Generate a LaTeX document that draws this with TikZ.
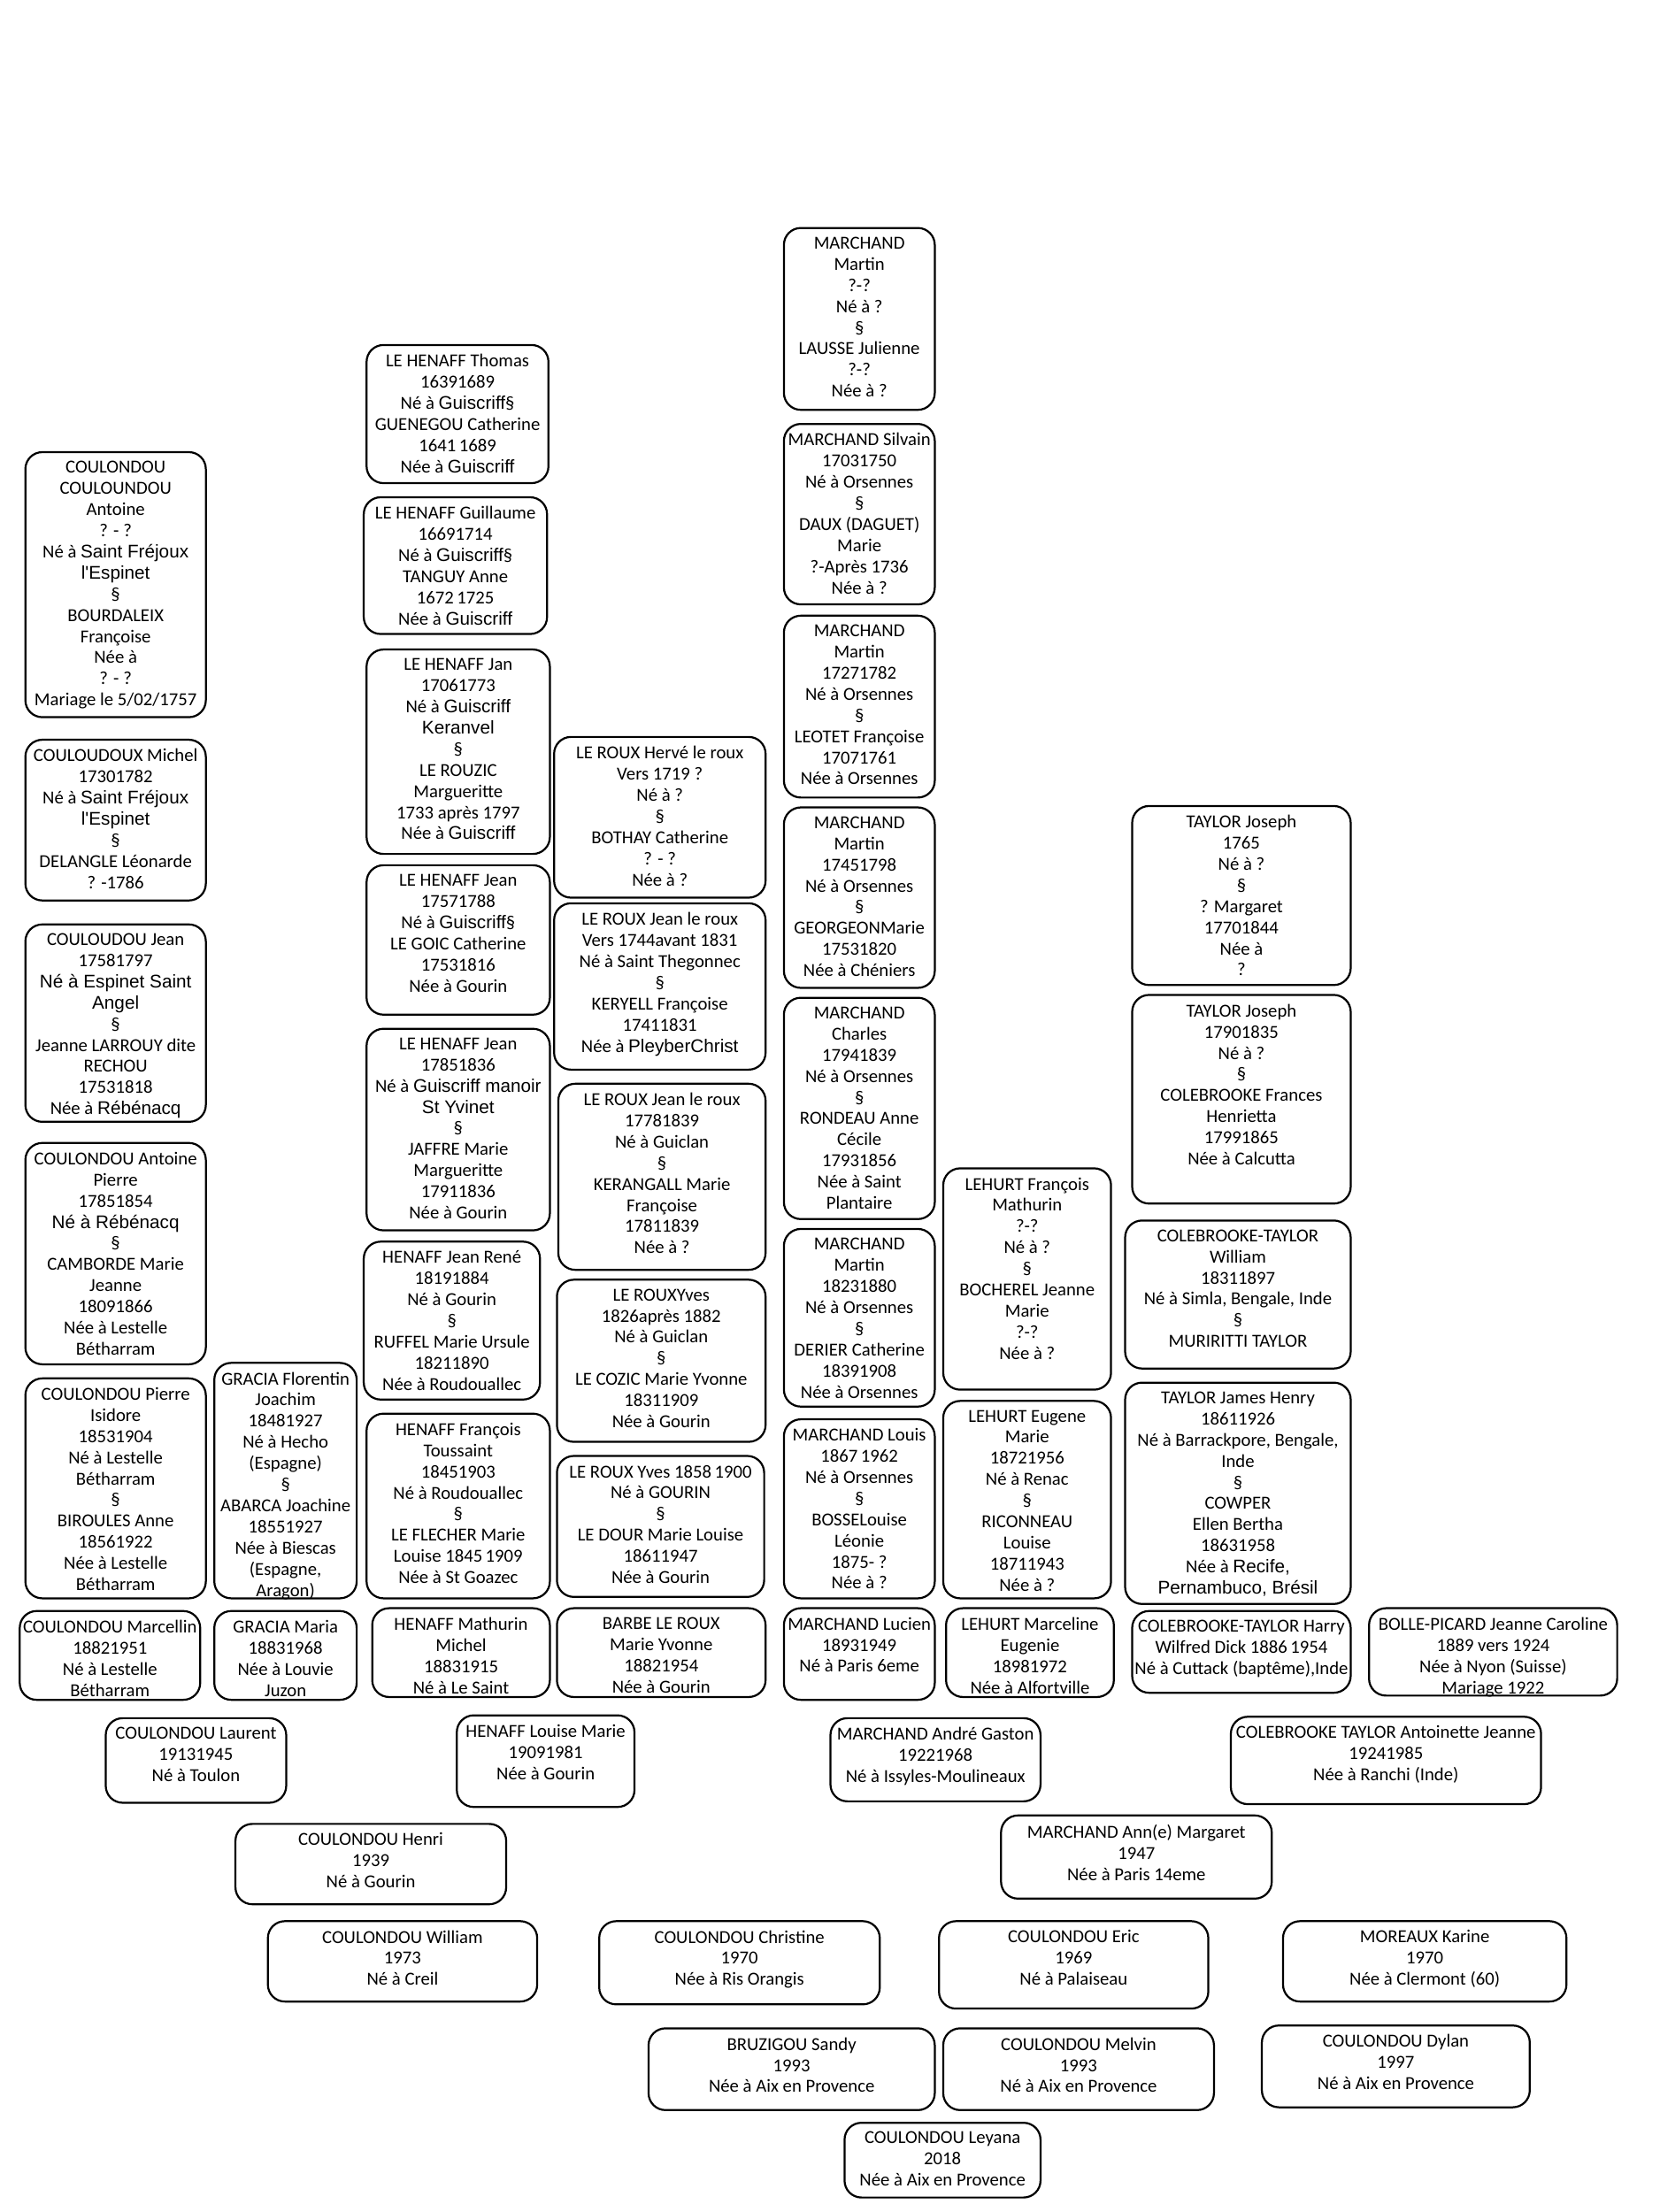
\documentclass[tikz,border=0pt]{standalone}
\usepackage{fontspec}
\setmainfont{Carlito}
\newfontfamily\arialfont{Liberation Sans}
\newcommand{\arialtxt}[1]{{\arialfont\fontsize{13}{15}\selectfont #1}}
\tikzset{
	card/.style 2 args={draw=black, line width=1.4pt, rounded corners=12pt, minimum width=#1, minimum height=#2, anchor=north, inner sep=0pt},
	cardtext/.style={anchor=north, yshift=-7pt, inner sep=0pt, align=center, font=\fontsize{13}{15}\selectfont}
}
\begin{document}
\begin{tikzpicture}[x=1pt,y=-1pt]
		\useasboundingbox (0,0) rectangle (1177,1569);
		\node[card={128}{188},label={[cardtext]north:{COULONDOU\\COULOUNDOU\\Antoine\\? - ?\\Né à \arialtxt{Saint Fréjoux}\\\arialtxt{l'Espinet}\\§\\BOURDALEIX\\Françoise\\Née à\\? - ?\\Mariage le 5/02/1757}}] (antoineA) at (82,320) {};
		\node[card={128}{114},label={[cardtext]north:{COULOUDOUX Michel\\17301782\\Né à \arialtxt{Saint Fréjoux}\\\arialtxt{l'Espinet}\\§\\DELANGLE Léonarde\\? -1786}}] (michel) at (82,524) {};
		\node[card={128}{140},label={[cardtext]north:{COULOUDOU Jean\\17581797\\\arialtxt{Né à Espinet Saint}\\\arialtxt{Angel}\\§\\Jeanne LARROUY dite\\RECHOU\\17531818\\Née à \arialtxt{Rébénacq}}}] (jeanC) at (82,655) {};
		\node[card={128}{157},label={[cardtext]north:{COULONDOU Antoine\\Pierre\\17851854\\\arialtxt{Né à Rébénacq}\\§\\CAMBORDE Marie\\Jeanne\\18091866\\Née à Lestelle\\Bétharram}}] (antoineP) at (82,810) {};
		\node[card={128}{156},label={[cardtext]north:{COULONDOU Pierre\\Isidore\\18531904\\Né à Lestelle\\Bétharram\\§\\BIROULES Anne\\18561922\\Née à Lestelle\\Bétharram}}] (pierre) at (82,977) {};
		\node[card={128}{63},label={[cardtext]north:{COULONDOU Marcellin\\18821951\\Né à Lestelle\\Bétharram}}] (marcellin) at (78,1142) {};
		
		\node[card={101}{167},label={[cardtext]north:{GRACIA Florentin\\Joachim\\18481927\\Né à Hecho\\(Espagne)\\§\\ABARCA Joachine\\18551927\\Née à Biescas\\(Espagne,\\Aragon)}}] (florentin) at (202.5,966) {};
		\node[card={101}{63},label={[cardtext]north:{GRACIA Maria\\18831968\\Née à Louvie\\Juzon}}] (maria) at (202.5,1142) {};
		
		\node[card={129}{98},label={[cardtext]north:{LE HENAFF Thomas\\16391689\\Né à \arialtxt{Guiscriff}§\\GUENEGOU Catherine\\1641\,1689\\Née à \arialtxt{Guiscriff}}}] (thomas) at (324.5,244) {};
		\node[card={130}{97},label={[cardtext]north:{LE HENAFF Guillaume\\16691714\\Né à \arialtxt{Guiscriff}§\\TANGUY Anne\\1672\,1725\\Née à \arialtxt{Guiscriff}}}] (guillaume) at (323,352) {};
		\node[card={130}{145},label={[cardtext]north:{LE HENAFF Jan\\17061773\\Né à \arialtxt{Guiscriff}\\\arialtxt{Keranvel}\\§\\LE ROUZIC\\Margueritte\\1733 après 1797\\Née à \arialtxt{Guiscriff}}}] (jan) at (325,460) {};
		\node[card={130}{106},label={[cardtext]north:{LE HENAFF Jean\\17571788\\Né à \arialtxt{Guiscriff}§\\LE GOIC Catherine\\17531816\\Née à Gourin}}] (jeanH) at (325,613) {};
		\node[card={130}{143},label={[cardtext]north:{LE HENAFF Jean\\17851836\\Né à \arialtxt{Guiscriff manoir}\\\arialtxt{St Yvinet}\\§\\JAFFRE Marie\\Margueritte\\17911836\\Née à Gourin}}] (jeanM) at (325,729) {};
		\node[card={125}{112},label={[cardtext]north:{HENAFF Jean René\\18191884\\Né à Gourin\\§\\RUFFEL Marie Ursule\\18211890\\Née à Roudouallec}}] (jeanR) at (320.5,880) {};
		\node[card={130}{131},label={[cardtext]north:{HENAFF François\\Toussaint\\18451903\\Né à Roudouallec\\§\\LE FLECHER Marie\\Louise 1845\,1909\\Née à St Goazec}}] (francoisT) at (325,1002) {};
		\node[card={126}{63},label={[cardtext]north:{HENAFF Mathurin\\Michel\\18831915\\Né à Le Saint}}] (mathurin) at (327,1140) {};
		
		\node[card={150}{114},label={[cardtext]north:{LE ROUX Hervé le roux\\Vers 1719 ?\\Né à ?\\§\\BOTHAY Catherine\\? - ?\\Née à ?}}] (herve) at (468,522) {};
		\node[card={150}{118},label={[cardtext]north:{LE ROUX Jean le roux\\Vers 1744avant 1831\\Né à Saint Thegonnec\\§\\KERYELL Françoise\\17411831\\Née à \arialtxt{PleyberChrist}}}] (jeanS) at (468,640) {};
		\node[card={147}{132},label={[cardtext]north:{LE ROUX Jean le roux\\17781839\\Né à Guiclan\\§\\KERANGALL Marie\\Françoise\\17811839\\Née à ?}}] (jeanG) at (469.5,768) {};
		\node[card={148}{115},label={[cardtext]north:{LE ROUXYves\\1826après 1882\\Né à Guiclan\\§\\LE COZIC Marie Yvonne\\18311909\\Née à Gourin}}] (yvesG) at (469,907) {};
		\node[card={147}{100},label={[cardtext]north:{LE ROUX Yves 1858\,1900\\Né à GOURIN\\§\\LE DOUR Marie Louise\\18611947\\Née à Gourin}}] (yves) at (468.5,1032) {};
		\node[card={148}{63},label={[cardtext]north:{BARBE LE ROUX\\Marie Yvonne\\18821954\\Née à Gourin}}] (barbe) at (469,1140) {};
		
		\node[card={107}{129},label={[cardtext]north:{MARCHAND\\Martin\\?-?\\Né à ?\\§\\LAUSSE Julienne\\?-?\\Née à ?}}] (martinA) at (609.5,161) {};
		\node[card={107}{128},label={[cardtext]north:{MARCHAND Silvain\\17031750\\Né à Orsennes\\§\\DAUX (DAGUET)\\Marie\\?-Après 1736\\Née à ?}}] (silvain) at (609.5,300) {};
		\node[card={107}{129},label={[cardtext]north:{MARCHAND\\Martin\\17271782\\Né à Orsennes\\§\\LEOTET Françoise\\17071761\\Née à Orsennes}}] (martinB) at (609.5,436) {};
		\node[card={107}{128},label={[cardtext]north:{MARCHAND\\Martin\\17451798\\Né à Orsennes\\§\\GEORGEONMarie\\17531820\\Née à Chéniers}}] (martinC) at (609.5,572) {};
		\node[card={107}{157},label={[cardtext]north:{MARCHAND\\Charles\\17941839\\Né à Orsennes\\§\\RONDEAU Anne\\Cécile\\17931856\\Née à Saint\\Plantaire}}] (charles) at (609.5,707) {};
		\node[card={107}{126},label={[cardtext]north:{MARCHAND\\Martin\\18231880\\Né à Orsennes\\§\\DERIER Catherine\\18391908\\Née à Orsennes}}] (martinD) at (609.5,871) {};
		\node[card={107}{127},label={[cardtext]north:{MARCHAND Louis\\1867\,1962\\Né à Orsennes\\§\\BOSSELouise\\Léonie\\1875- ?\\Née à ?}}] (louis) at (609.5,1006) {};
		\node[card={107}{65},label={[cardtext]north:{MARCHAND Lucien\\18931949\\Né à Paris 6eme}}] (lucien) at (609.5,1140) {};
		
		\node[card={119}{157},label={[cardtext]north:{LEHURT François\\Mathurin\\?-?\\Né à ?\\§\\BOCHEREL Jeanne\\Marie\\?-?\\Née à ?}}] (francoisM) at (728.5,828) {};
		\node[card={119}{140},label={[cardtext]north:{LEHURT Eugene\\Marie\\18721956\\Né à Renac\\§\\RICONNEAU\\Louise\\18711943\\Née à ?}}] (eugene) at (728.5,993) {};
		\node[card={119}{63},label={[cardtext]north:{LEHURT Marceline\\Eugenie\\18981972\\Née à Alfortville}}] (marceline) at (730.5,1140) {};
		
		\node[card={155}{127},label={[cardtext]north:{TAYLOR Joseph\\1765\\Né à ?\\§\\? Margaret\\17701844\\Née à\\?}}] (josephA) at (880.5,571) {};
		\node[card={155}{148},label={[cardtext]north:{TAYLOR Joseph\\17901835\\Né à ?\\§\\COLEBROOKE Frances\\Henrietta\\17991865\\Née à Calcutta}}] (josephB) at (880.5,705) {};
		\node[card={160}{105},label={[cardtext]north:{COLEBROOKE-TAYLOR\\William\\18311897\\Né à Simla, Bengale, Inde\\§\\MURIRITTI TAYLOR}}] (william) at (878,865) {};
		\node[card={160}{157},label={[cardtext]north:{TAYLOR James Henry\\18611926\\Né à Barrackpore, Bengale,\\Inde\\§\\COWPER\\Ellen Bertha\\18631958\\Née à \arialtxt{Recife,}\\\arialtxt{Pernambuco, Brésil}}}] (james) at (878,980) {};
		\node[card={155}{58},label={[cardtext]north:{COLEBROOKE-TAYLOR Harry\\Wilfred Dick 1886\,1954\\Né à Cuttack (baptême),Inde}}] (harry) at (880.5,1142) {};
		
		\node[card={176}{62},label={[cardtext]north:{BOLLE-PICARD Jeanne Caroline\\1889 vers 1924\\Née à Nyon (Suisse)\\Mariage 1922}}] (jeanneC) at (1059,1140) {};
		
		\node[card={128}{60},label={[cardtext]north:{COULONDOU Laurent\\19131945\\Né à Toulon}}] (laurent) at (139,1218) {};
		\node[card={126}{65},label={[cardtext]north:{HENAFF Louise Marie\\19091981\\Née à Gourin}}] (louise) at (387,1216) {};
		\node[card={149}{59},label={[cardtext]north:{MARCHAND André Gaston\\19221968\\Né à Issyles-Moulineaux}}] (andre) at (663.5,1218) {};
		\node[card={220}{62},label={[cardtext]north:{COLEBROOKE TAYLOR Antoinette Jeanne\\19241985\\Née à Ranchi (Inde)}}] (antoinette) at (983,1217) {};
		
		\node[card={192}{57},label={[cardtext]north:{COULONDOU Henri\\1939\\Né à Gourin}}] (henri) at (263,1293) {};
		\node[card={192}{59},label={[cardtext]north:{MARCHAND Ann(e) Margaret\\1947\\Née à Paris 14eme}}] (ann) at (806,1287) {};
		
		\node[card={191}{57},label={[cardtext]north:{COULONDOU William\\1973\\Né à Creil}}] (williamC) at (285.5,1362) {};
		\node[card={199}{59},label={[cardtext]north:{COULONDOU Christine\\1970\\Née à Ris Orangis}}] (christine) at (524.5,1362) {};
		\node[card={191}{62},label={[cardtext]north:{COULONDOU Eric\\1969\\Né à Palaiseau}}] (eric) at (761.5,1362) {};
		\node[card={201}{57},label={[cardtext]north:{MOREAUX Karine\\1970\\Née à Clermont (60)}}] (karine) at (1010.5,1362) {};
		
		\node[card={203}{58},label={[cardtext]north:{BRUZIGOU Sandy\\1993\\Née à Aix en Provence}}] (sandy) at (561.5,1438) {};
		\node[card={192}{58},label={[cardtext]north:{COULONDOU Melvin\\1993\\Né à Aix en Provence}}] (melvin) at (765,1438) {};
		\node[card={190}{58},label={[cardtext]north:{COULONDOU Dylan\\1997\\Né à Aix en Provence}}] (dylan) at (990,1436) {};
		\node[card={139}{53},label={[cardtext]north:{COULONDOU Leyana\\2018\\Née à Aix en Provence}}] (leyana) at (668.5,1505) {};
	
	\end{tikzpicture}
\end{document}
